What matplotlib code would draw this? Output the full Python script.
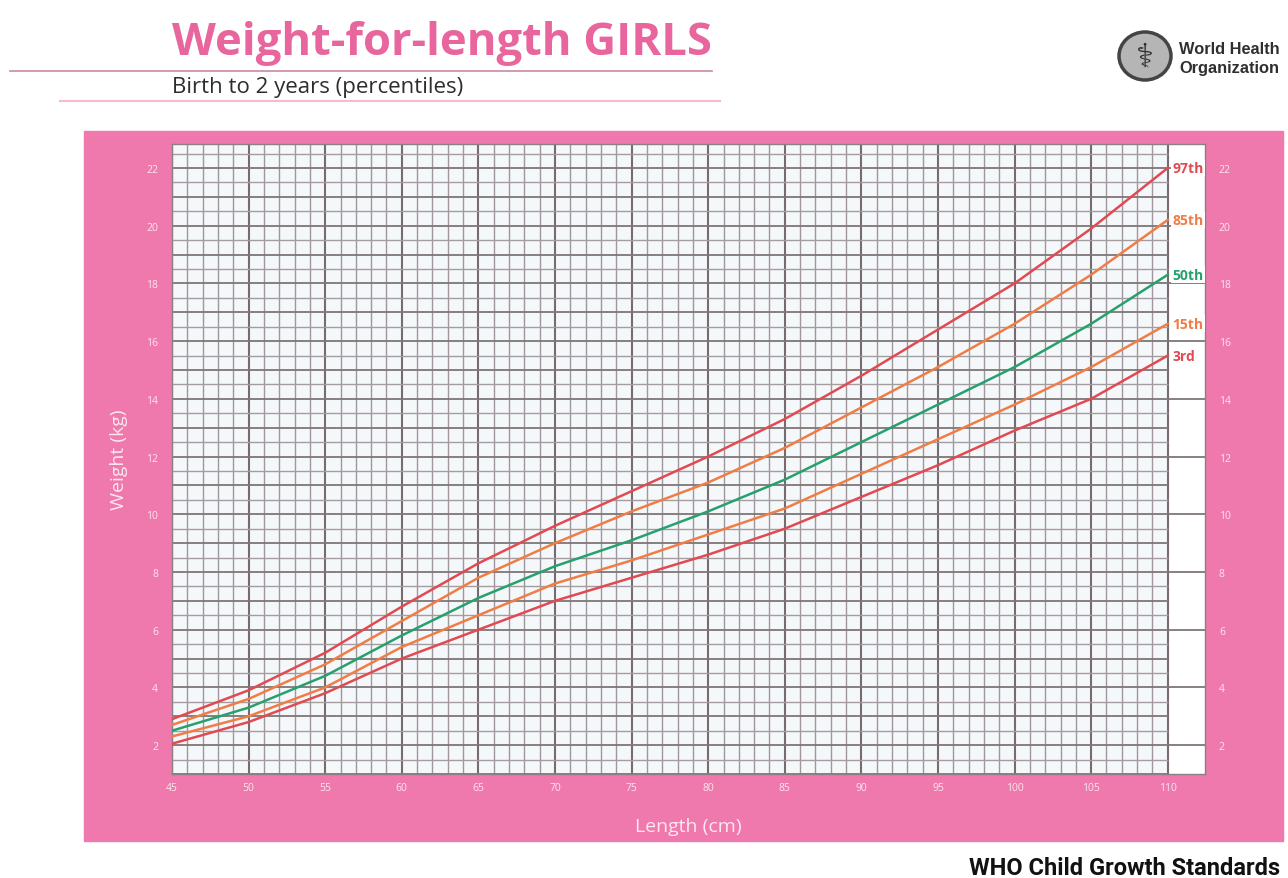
import numpy as np
import matplotlib
matplotlib.use("Agg")
import matplotlib.pyplot as plt
from matplotlib.patches import Rectangle, Ellipse

# length (cm) and weight percentiles (kg)
length = [45, 50, 55, 60, 65, 70, 75, 80, 85, 90, 95, 100, 105, 110]
p97 = [2.9, 3.9, 5.2, 6.8, 8.3, 9.6, 10.8, 12.0, 13.3, 14.8, 16.4, 18.0, 19.9, 22.0]
p85 = [2.7, 3.6, 4.8, 6.3, 7.8, 9.0, 10.1, 11.1, 12.3, 13.7, 15.1, 16.6, 18.3, 20.2]
p50 = [2.5, 3.3, 4.4, 5.8, 7.1, 8.2, 9.1, 10.1, 11.2, 12.5, 13.8, 15.1, 16.6, 18.3]
p15 = [2.3, 3.0, 4.0, 5.4, 6.5, 7.6, 8.4, 9.3, 10.2, 11.4, 12.6, 13.8, 15.1, 16.6]
p3 = [2.05, 2.8, 3.8, 5.0, 6.0, 7.0, 7.8, 8.6, 9.5, 10.6, 11.7, 12.9, 14.0, 15.5]

curves = [("97th", p97, "#e24a52"), ("85th", p85, "#f07d45"),
          ("50th", p50, "#27a06e"), ("15th", p15, "#f07d45"),
          ("3rd", p3, "#e24a52")]

xticks = list(range(45, 111, 5))
yticks = list(range(2, 23, 2))

W, H = 1288, 879
pink = "#ef79ac"
fig = plt.figure(figsize=(W / 100, H / 100), dpi=100)
fig.patch.set_facecolor("white")

# pink panel
fig.add_artist(Rectangle((84 / W, 1 - 842 / H), (1283 - 84) / W, (842 - 132) / H,
                         transform=fig.transFigure, color=pink, zorder=0))

ax = fig.add_axes([172 / W, 1 - 775 / H, (1205 - 172) / W, (775 - 145) / H])
ax.set_facecolor("#f5f8fb")
ax.set_xlim(45, 112.43)
ax.set_ylim(1, 22.83)
ax.axvspan(110, 112.43, color="white", zorder=0.5)

# grid paper
for x in range(45, 111):
    major = x % 5 == 0
    ax.vlines(x, 1, 22.83, color="#766b6d" if major else "#a0979a",
              lw=1.5 if major else 1.0, zorder=1)
for y in np.arange(1, 22.6, 0.5):
    major = y == int(y)
    ax.hlines(y, 45, 110, color="#7f7577" if major else "#a59c9f",
              lw=1.3 if major else 1.0, zorder=1)
for y in yticks:
    ax.hlines(y, 110, 112.43, color="#7f7577", lw=1.3, zorder=1)

for name, vals, col in curves:
    ax.plot(length, vals, color=col, lw=1.8, zorder=3, solid_joinstyle="round")
    ax.text(110.3, vals[-1], name, color=col, fontsize=10, fontweight="bold",
            family="Open Sans", ha="left", va="center", zorder=4,
            bbox=dict(boxstyle="square,pad=0.1", fc="white", ec="none"))

for s in ax.spines.values():
    s.set_color("#8a8082")
    s.set_linewidth(1.0)

ax.set_xticks(xticks)
ax.set_yticks(yticks)
ax.tick_params(length=0, labelsize=7.5, labelcolor="#fde6f0", pad=6)
ax.tick_params(axis="y", labelleft=True, labelright=True, pad=10)
for lab in ax.get_yticklabels() + ax.get_xticklabels():
    lab.set_family("Open Sans")

ax.set_xlabel("Length (cm)", color="#fde6f0", fontsize=14, family="Open Sans",
              labelpad=17)
ax.set_ylabel("Weight (kg)", color="#fde6f0", fontsize=14, family="Open Sans",
              labelpad=13)

# header
fig.text(172 / W, 1 - 43 / H, "Weight-for-length GIRLS", color="#e8659d",
         fontsize=32.7, fontweight="bold", family="Open Sans", va="center")
fig.add_artist(plt.Line2D([10 / W, 712 / W], [1 - 72 / H, 1 - 72 / H],
                          color="#c98aa3", lw=1.2, transform=fig.transFigure))
fig.text(172 / W, 1 - 88 / H, "Birth to 2 years (percentiles)", color="#2d2d2d",
         fontsize=16, family="Open Sans", va="center")
fig.add_artist(plt.Line2D([60 / W, 720 / W], [1 - 102 / H, 1 - 102 / H],
                          color="#f6b9d2", lw=1.5, transform=fig.transFigure))

# WHO emblem and name
fig.add_artist(Ellipse((1145 / W, 1 - 57 / H), 52 / W, 48 / H, transform=fig.transFigure,
                       fc="#b5b5b5", ec="#444444", lw=2.5))
fig.text(1145 / W, 1 - 57 / H, "⚕", fontsize=24, color="#2f2f2f",
         family="DejaVu Sans", ha="center", va="center")
fig.text(1179 / W, 1 - 49 / H, "World Health", fontsize=11.8, fontweight="bold",
         color="#2f2f2f", family="Liberation Sans", va="center")
fig.text(1179 / W, 1 - 68 / H, "Organization", fontsize=11.8, fontweight="bold",
         color="#2f2f2f", family="Liberation Sans", va="center")

fig.text(1280 / W, 1 - 869 / H, "WHO Child Growth Standards", fontsize=17,
         fontweight="bold", color="#111111", family="Roboto",
         ha="right", va="center")

fig.savefig("out.png", dpi=100)
